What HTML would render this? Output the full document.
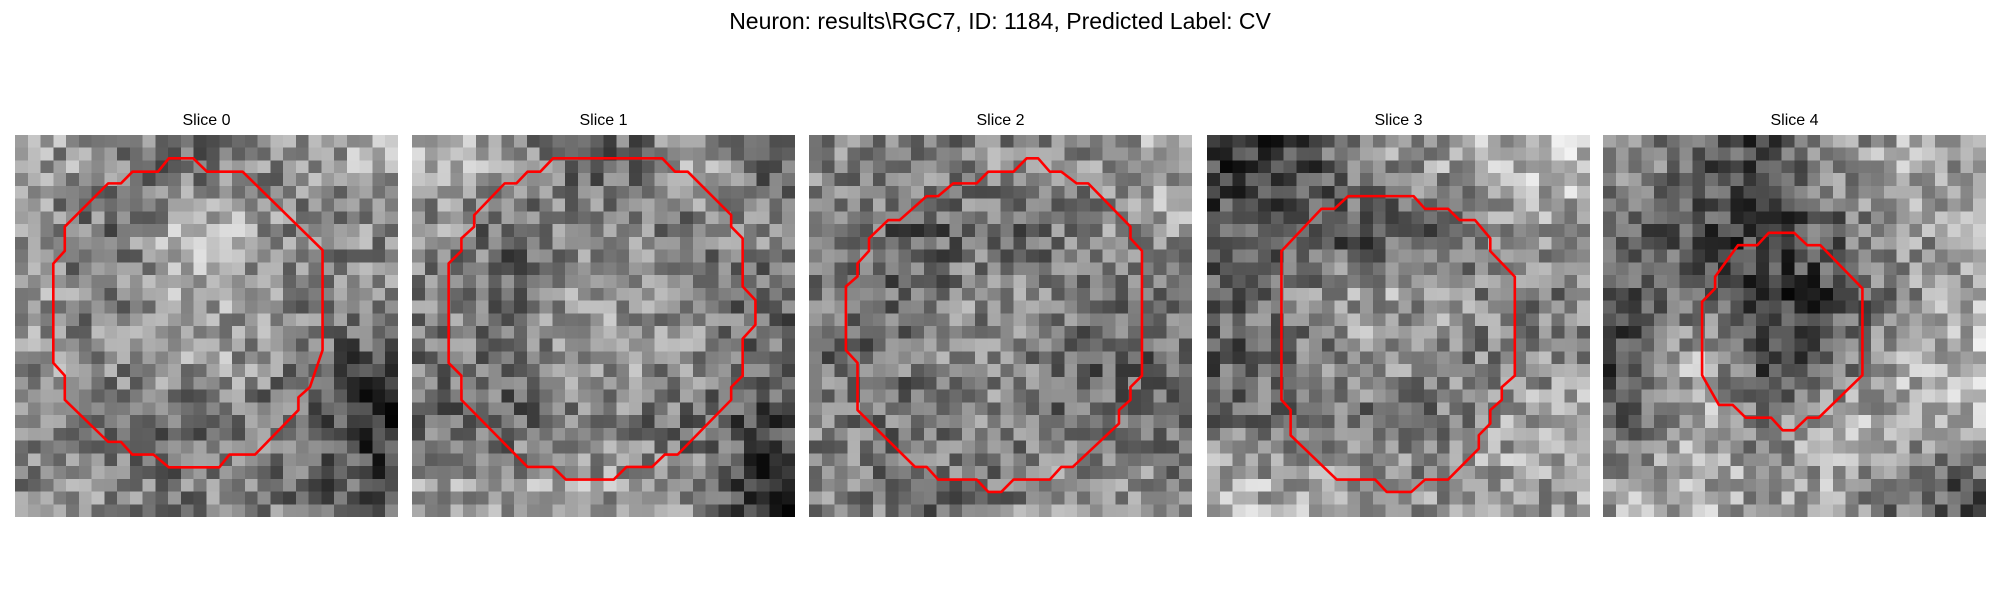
<!DOCTYPE html>
<html><head><meta charset="utf-8"><style>
body{margin:0;background:#fff;width:2000px;height:600px;position:relative;overflow:hidden;font-family:"Liberation Sans","DejaVu Sans",sans-serif}
#title{position:absolute;left:0;width:2000px;top:8px;text-align:center;font-size:23px;color:#000}
.lbl{position:absolute;top:112px;width:383px;text-align:center;font-size:16px;color:#000}
.panel{position:absolute;top:135px;width:383px;height:382px}
.panel canvas{position:absolute;left:0;top:0;width:383px;height:382px;image-rendering:pixelated}
.panel svg{position:absolute;left:0;top:0;width:383px;height:382px}
</style></head><body>
<div id="title">Neuron: results\RGC7, ID: 1184, Predicted Label: CV</div>
<div id="root"></div>
<script>
const sliceNames=["Slice 0","Slice 1","Slice 2","Slice 3","Slice 4"];
const panelLeft=[15,412,809,1207,1603];
const coarse0=[[150,140,110,120,150,160],[140,110,170,170,120,140],[150,120,170,160,130,130],[140,140,160,150,120,90],[150,100,100,120,110,60],[130,140,120,150,110,90]];
const coarse1=[[160,150,110,110,160,110],[140,100,140,140,120,140],[130,110,150,140,130,110],[120,120,150,150,140,110],[110,100,120,120,110,80],[150,150,160,150,130,70]];
const coarse2=[[140,130,130,140,140,160],[140,90,110,110,130,150],[130,100,140,130,120,120],[110,120,140,130,110,110],[130,110,140,120,100,120],[130,120,110,140,150,130]];
const coarse3=[[70,80,140,150,170,190],[90,100,80,90,140,150],[110,130,160,150,130,130],[100,120,140,140,130,140],[120,110,110,120,150,170],[170,160,140,150,160,150]];
const coarse4=[[140,90,80,130,160,150],[110,90,70,100,130,160],[90,110,60,80,130,160],[80,180,80,90,160,180],[110,170,120,160,170,170],[160,170,150,160,120,90]];
const contour0=[[12.05,1.83],[13.96,1.83],[15.04,2.88],[17.83,2.88],[24.09,9.04],[24.09,16.9],[23.1,19.8],[22.2,20.6],[22.2,21.6],[18.8,25.1],[16.8,25.1],[16.0,26.1],[12.05,26.1],[10.85,25.1],[9.2,25.1],[8.3,24.1],[7.3,24.1],[3.9,20.8],[3.9,18.9],[3.0,17.9],[3.0,10.1],[3.9,9.1],[3.9,7.2],[7.3,3.8],[8.3,3.8],[9.2,2.88],[11.2,2.88]];
const contour1=[[11.05,1.83],[19.6,1.83],[20.6,2.88],[21.6,2.88],[25.0,6.29],[25.0,7.2],[25.9,8.12],[25.9,11.9],[26.9,12.97],[26.9,14.9],[25.9,16.0],[25.9,18.9],[25.0,19.8],[25.0,20.8],[20.8,25.1],[19.8,25.1],[18.8,26.07],[16.8,26.07],[15.8,27.06],[12.05,27.06],[11.05,26.07],[9.05,26.07],[3.87,20.8],[3.87,18.9],[2.87,17.9],[2.87,10.09],[3.87,9.1],[3.87,8.12],[4.87,7.2],[4.87,6.29],[7.26,3.8],[8.18,3.8],[9.05,2.88],[10.05,2.88]];
const contour2=[[17.05,1.83],[17.95,1.83],[18.86,2.88],[19.76,2.88],[20.96,3.8],[21.87,3.8],[25.18,7.2],[25.18,8.12],[26.08,9.1],[26.08,18.9],[25.18,19.8],[25.18,20.8],[24.28,21.6],[24.28,22.66],[20.66,26.07],[19.76,26.07],[18.86,27.06],[16.02,27.06],[15.06,28.03],[14.04,28.03],[13.13,27.06],[10.12,27.06],[9.22,26.07],[8.31,26.07],[3.8,21.6],[3.8,17.9],[2.89,16.9],[2.89,11.9],[3.8,11.1],[3.8,10.09],[4.7,9.1],[4.7,8.12],[6.2,6.68],[7.1,6.68],[9.22,4.8],[10.12,4.8],[11.3,3.8],[13.13,3.8],[14.04,2.88],[16.02,2.88]];
const contour3=[[11.06,4.8],[16.18,4.8],[17.08,5.8],[18.88,5.8],[19.78,6.68],[20.99,6.68],[22.19,8.12],[22.19,9.12],[24.11,11.13],[24.11,18.9],[23.09,19.8],[23.09,20.8],[22.19,21.6],[22.19,22.66],[21.29,23.58],[21.29,24.63],[18.88,27.06],[17.08,27.06],[16.0,28.03],[14.07,28.03],[13.17,27.06],[10.16,27.06],[6.55,23.58],[6.55,21.6],[5.83,20.8],[5.83,9.12],[8.96,5.8],[9.98,5.8]];
const contour4=[[12.99,7.68],[14.97,7.68],[16.0,8.65],[17.02,8.65],[20.32,12.05],[20.32,18.86],[16.9,22.2],[16.0,22.2],[14.97,23.19],[14.07,23.19],[13.17,22.2],[11.18,22.2],[10.16,21.2],[9.08,21.2],[7.76,18.86],[7.76,13.1],[8.78,12.05],[8.78,11.13],[10.58,8.65],[12.09,8.65]];
const coarseMaps=[coarse0,coarse1,coarse2,coarse3,coarse4];
const contours=[contour0,contour1,contour2,contour3,contour4];

function hash(i,j,k){let h=(i*374761393+j*668265263+k*2147483647)|0;h=(h^(h>>>13))*1274126177|0;h=h^(h>>>16);return ((h>>>0)%1000)/1000;}
function sample(m,x,y){
  const gx=Math.min(Math.max(x/5-0.5,0),5),gy=Math.min(Math.max(y/5-0.5,0),5);
  const x0=Math.floor(gx),y0=Math.floor(gy),x1=Math.min(x0+1,5),y1=Math.min(y0+1,5);
  const fx=gx-x0,fy=gy-y0;
  return m[y0][x0]*(1-fx)*(1-fy)+m[y0][x1]*fx*(1-fy)+m[y1][x0]*(1-fx)*fy+m[y1][x1]*fx*fy;
}
const root=document.getElementById('root');
const NS='http://www.w3.org/2000/svg';
sliceNames.forEach((name,k)=>{
  const lbl=document.createElement('div');
  lbl.className='lbl';lbl.style.left=panelLeft[k]+'px';lbl.textContent=name;
  
  
  root.appendChild(lbl);
  const p=document.createElement('div');
  p.className='panel';p.style.left=panelLeft[k]+'px';
  
  
  const c=document.createElement('canvas');c.width=30;c.height=30;
  
  
  const ctx=c.getContext('2d');const img=ctx.createImageData(30,30);
  for(let y=0;y<30;y++)for(let x=0;x<30;x++){
    let m=sample(coarseMaps[k],x+0.5,y+0.5);
    let v=128+(m-128)*1.15+(hash(x,y,k+1)-0.5)*115;
    v=Math.max(0,Math.min(255,v));const o=(y*30+x)*4;
    img.data[o]=img.data[o+1]=img.data[o+2]=v;img.data[o+3]=255;
  }
  ctx.putImageData(img,0,0);p.appendChild(c);
  const s=document.createElementNS(NS,'svg');s.setAttribute('viewBox','0 0 30 30');s.setAttribute('preserveAspectRatio','none');
  const pl=document.createElementNS(NS,'polygon');
  pl.setAttribute('points',contours[k].map(q=>q[0]+','+q[1]).join(' '));
  pl.setAttribute('fill','none');pl.setAttribute('stroke','#ff0000');pl.setAttribute('stroke-width','2.6');
  pl.setAttribute('vector-effect','non-scaling-stroke');pl.setAttribute('stroke-linejoin','round');
  
  
  s.appendChild(pl);p.appendChild(s);root.appendChild(p);
});
</script>
</body></html>
